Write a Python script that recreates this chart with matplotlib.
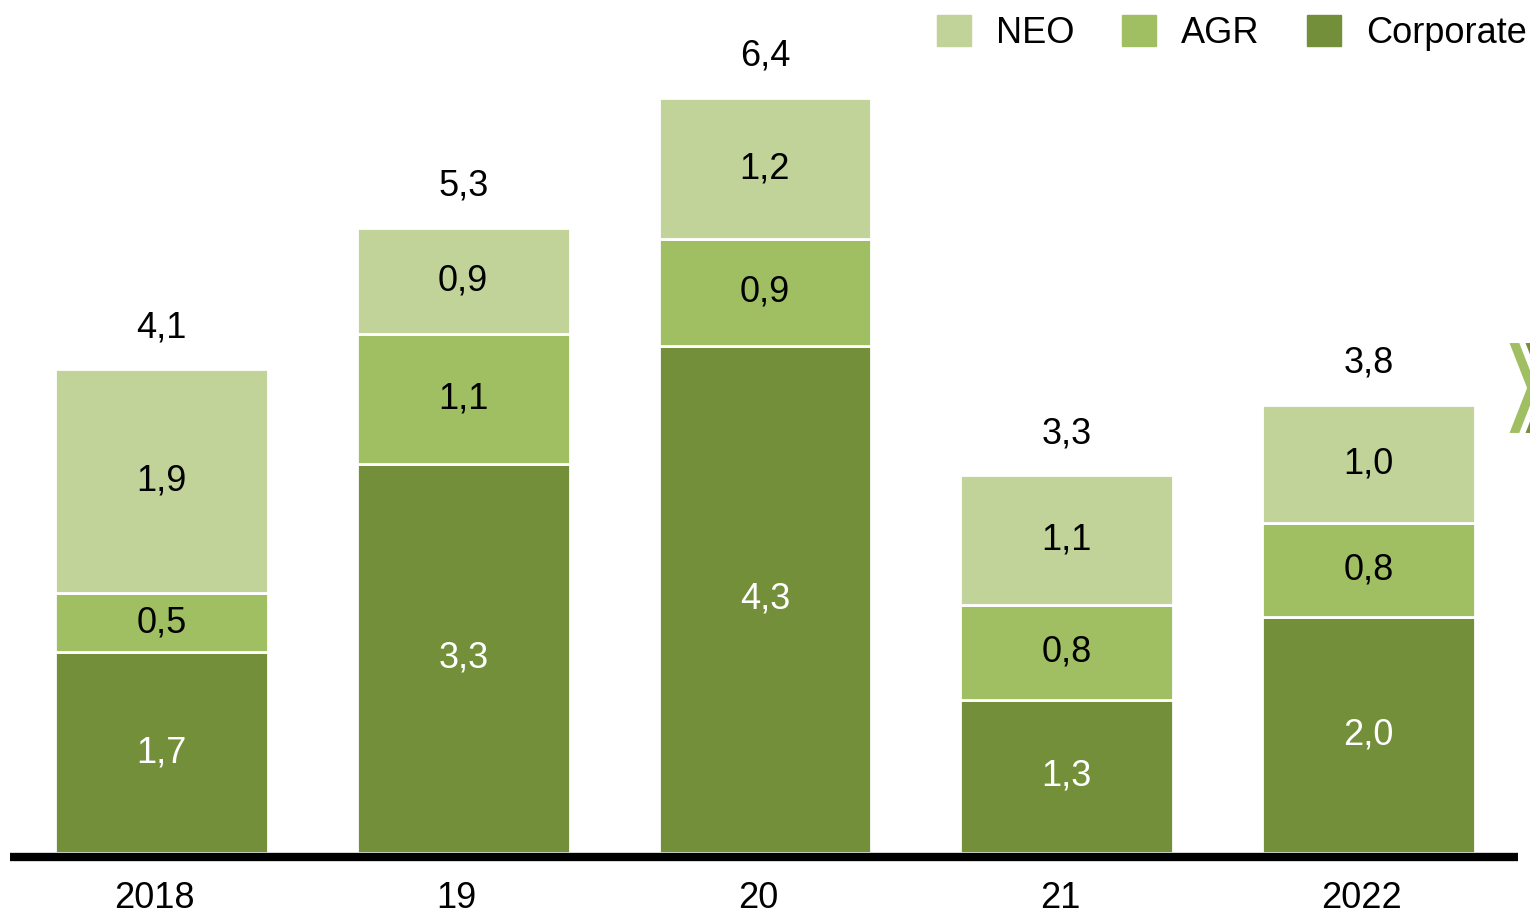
import matplotlib
matplotlib.use("Agg")
import matplotlib.pyplot as plt
from matplotlib.patches import Patch, Polygon

# ===== Data =====
YEARS = ["2018", "19", "20", "21", "2022"]
CORPORATE = [1.7, 3.3, 4.3, 1.3, 2.0]
AGR = [0.5, 1.1, 0.9, 0.8, 0.8]
NEO = [1.9, 0.9, 1.2, 1.1, 1.0]
TOTALS = [4.1, 5.3, 6.4, 3.3, 3.8]

COL_NEO = "#C1D398"
COL_AGR = "#A0BE62"
COL_CORP = "#748F3A"

plt.rcParams["font.family"] = ["Liberation Sans", "DejaVu Sans"]
FS = 26


def fmt(v):
    return f"{v:.1f}".replace(".", ",")


W, H = 1530, 914
fig = plt.figure(figsize=(W / 100, H / 100), dpi=100)
ax = fig.add_axes([0, 61 / H, 1, 1 - 61 / H])
ax.set_xlim(-0.535, 4.535)
ax.set_ylim(0, 853 / 118)
ax.axis("off")

x = range(len(YEARS))
bw = 0.705
bottoms_agr = CORPORATE
bottoms_neo = [c + a for c, a in zip(CORPORATE, AGR)]

ax.bar(x, CORPORATE, bw, color=COL_CORP, edgecolor="white", linewidth=2)
ax.bar(x, AGR, bw, bottom=bottoms_agr, color=COL_AGR, edgecolor="white", linewidth=2)
ax.bar(x, NEO, bw, bottom=bottoms_neo, color=COL_NEO, edgecolor="white", linewidth=2)

for i in x:
    ax.text(i, CORPORATE[i] / 2, fmt(CORPORATE[i]), ha="center", va="center",
            fontsize=FS, color="white")
    ax.text(i, bottoms_agr[i] + AGR[i] / 2, fmt(AGR[i]), ha="center", va="center",
            fontsize=FS, color="black")
    ax.text(i, bottoms_neo[i] + NEO[i] / 2, fmt(NEO[i]), ha="center", va="center",
            fontsize=FS, color="black")
    top = bottoms_neo[i] + NEO[i]
    ax.annotate(fmt(TOTALS[i]), (i, top), xytext=(0, 30), textcoords="offset points",
                ha="center", va="center", fontsize=FS, color="black")
    ax.annotate(YEARS[i], (i, 0), xytext=(-5, -33), textcoords="offset points",
                ha="center", va="center", fontsize=FS, color="black", annotation_clip=False)

# baseline
ax.axhline(-0.03, xmin=10 / W, xmax=1518 / W, color="black", linewidth=6,
           solid_capstyle="butt", clip_on=False)

# legend
handles = [Patch(color=COL_NEO, label="NEO"),
           Patch(color=COL_AGR, label="AGR"),
           Patch(color=COL_CORP, label="Corporate")]
fig.legend(handles=handles, ncol=3, loc="upper right", bbox_to_anchor=(1527 / W, 1 - 15 / H),
           frameon=False, fontsize=FS, handlelength=0.95, handleheight=0.95,
           handletextpad=0.7, columnspacing=1.3, borderpad=0, borderaxespad=0)


# chevron at the right edge
def chevron(x0, color):
    pts = [(x0, 342), (x0 + 12, 342), (x0 + 30, 388), (x0 + 12, 434), (x0, 434), (x0 + 18, 388)]
    pts = [(px / W, 1 - py / H) for px, py in pts]
    fig.patches.append(Polygon(pts, closed=True, facecolor=color, edgecolor="white",
                               linewidth=1.5, transform=fig.transFigure, figure=fig))


chevron(1524, COL_CORP)
chevron(1508, COL_AGR)

fig.savefig("out.png", dpi=100, facecolor="white")
